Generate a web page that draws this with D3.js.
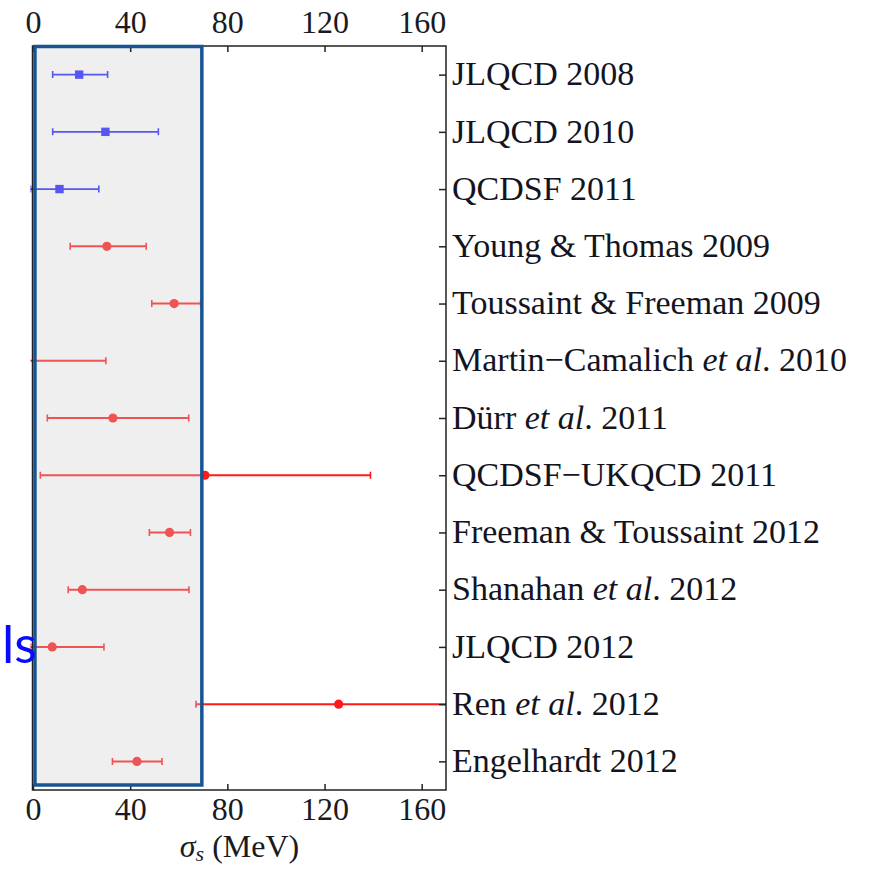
<!DOCTYPE html>
<html><head><meta charset="utf-8">
<script src="https://cdn.jsdelivr.net/npm/d3@7"></script>
<style>
html,body{margin:0;padding:0;background:#fff;}
svg{display:block;}
</style></head>
<body>
<svg id="chart" width="877" height="870"></svg>
<script>
// ---- data ----
const studies = [
  "JLQCD 2008", "JLQCD 2010", "QCDSF 2011", "Young & Thomas 2009",
  "Toussaint & Freeman 2009", "Martin\u2212Camalich et al. 2010", "Dürr et al. 2011",
  "QCDSF\u2212UKQCD 2011", "Freeman & Toussaint 2012", "Shanahan et al. 2012",
  "JLQCD 2012", "Ren et al. 2012", "Engelhardt 2012"
];
const centers = [19, 29.8, 10.9, 30.4, 58.1, -4, 32.9, 70.8, 56.2, 20.3, 7.9, 125.8, 42.8];
const lows    = [8.1, 8.1, -1, 15.3, 48.9, -35, 5.9, 3, 47.9, 14.5, -1, 67.1, 32.7];
const highs   = [30.7, 51.6, 27.1, 46.6, 69, 30, 64.1, 138.9, 64.8, 64.2, 29.2, 185, 53.1];
const groups  = ["Nf2", "Nf2", "Nf2", "Nf3", "Nf3", "Nf3", "Nf3", "Nf3", "Nf3", "Nf3", "Nf3", "Nf3", "Nf3"];
const xTicks = [0, 40, 80, 120, 160];
const xDomain = [0, 170];
const shadeRange = [0.8, 69.5];
const xTitle = ["\u03C3", "s", " (MeV)"];
const sideNote = "ls";

// ---- layout ----
const L = 33, R = 446, T = 46, B = 790;
const svg = d3.select("#chart");
const x = d3.scaleLinear().domain(xDomain).range([L, R]);
const y = d3.scalePoint().domain(studies).range([T, B]).padding(0.5);
const color = d3.scaleOrdinal().domain(["Nf2", "Nf3"]).range(["#2020ff", "#ff1a1a"]);
const serif = "'Liberation Serif','Times New Roman',serif";

const rows = studies.map((s, i) => ({name: s, c: centers[i], lo: lows[i], hi: highs[i], g: groups[i]}));

svg.append("defs").append("clipPath").attr("id", "clip")
  .append("rect").attr("x", x(-1)).attr("y", T - 5).attr("width", R - x(-1)).attr("height", B - T + 10);

// data layer
const gData = svg.append("g").attr("clip-path", "url(#clip)");
const row = gData.selectAll("g.row").data(rows).join("g").attr("class", "row")
  .attr("transform", d => `translate(0,${y(d.name)})`);
row.append("line")
  .attr("x1", d => x(d.lo)).attr("x2", d => x(d.hi))
  .attr("stroke", d => color(d.g)).attr("stroke-width", d => d.g === "Nf2" ? 1.8 : 2);
row.selectAll("line.cap").data(d => [d.lo, d.hi].map(v => ({v, g: d.g}))).join("line").attr("class", "cap")
  .attr("x1", d => x(d.v)).attr("x2", d => x(d.v)).attr("y1", -3.5).attr("y2", 3.5)
  .attr("stroke", d => color(d.g)).attr("stroke-width", 1.6);
row.filter(d => d.g === "Nf3").append("circle")
  .attr("cx", d => x(d.c)).attr("cy", 0).attr("r", 4.6).attr("fill", d => color(d.g));
row.filter(d => d.g === "Nf2").append("rect")
  .attr("x", d => x(d.c) - 4.2).attr("y", -4.2).attr("width", 8.4).attr("height", 8.4)
  .attr("fill", d => color(d.g));

// shaded overlay
svg.append("rect")
  .attr("x", x(shadeRange[0])).attr("y", T + 0.5)
  .attr("width", x(shadeRange[1]) - x(shadeRange[0])).attr("height", 738.5)
  .attr("fill", "rgb(205,205,205)").attr("fill-opacity", 0.32);

// frame
svg.append("rect").attr("x", L - 0.5).attr("y", T).attr("width", R - L + 0.5).attr("height", B - T)
  .attr("fill", "none").attr("stroke", "#222").attr("stroke-width", 1.5);

// top axis
const gTop = svg.append("g").attr("transform", `translate(0,${T})`)
  .call(d3.axisTop(x).tickValues(xTicks).tickSize(-6).tickSizeOuter(0).tickPadding(13));
// bottom axis
const gBot = svg.append("g").attr("transform", `translate(0,${B})`)
  .call(d3.axisBottom(x).tickValues(xTicks).tickSize(-6).tickSizeOuter(0).tickPadding(8));
[gTop, gBot].forEach(g => {
  g.select(".domain").remove();
  g.selectAll(".tick line").attr("stroke", "#222").attr("stroke-width", 1.5);
  g.selectAll(".tick text").attr("font-family", serif).attr("font-size", 32).attr("fill", "#1a1a22");
});
gBot.selectAll(".tick text").attr("dy", null).attr("y", 30);
gTop.selectAll(".tick text").attr("y", -13);

// right axis with study labels
const gRight = svg.append("g").attr("transform", `translate(${R},0)`)
  .call(d3.axisRight(y).tickSize(-7).tickSizeOuter(0).tickPadding(6));
gRight.select(".domain").remove();
gRight.selectAll(".tick line").attr("stroke", "#222").attr("stroke-width", 1.5);
gRight.selectAll(".tick text").each(function(d) {
  const t = d3.select(this).text(null)
    .attr("font-family", serif).attr("font-size", 34).attr("fill", "#14141e")
    .attr("dy", "0.3em");
  const parts = d.split("et al");
  if (parts.length === 1) { t.append("tspan").text(d); }
  else {
    t.append("tspan").text(parts[0]);
    t.append("tspan").attr("font-style", "italic").text("et al");
    t.append("tspan").text(parts[1]);
  }
});

// x-axis title
const title = svg.append("text").attr("x", (L + R) / 2).attr("y", 857).attr("text-anchor", "middle")
  .attr("font-family", serif).attr("font-size", 32).attr("fill", "#1a1a22");
title.append("tspan").attr("font-style", "italic").text(xTitle[0]);
title.append("tspan").attr("font-style", "italic").attr("font-size", 22).attr("dy", 4).text(xTitle[1]);
title.append("tspan").attr("dy", -4).text(xTitle[2]);

// blue shaded-region border (drawn on top)
svg.append("rect")
  .attr("x", x(shadeRange[0])).attr("y", T + 0.5)
  .attr("width", x(shadeRange[1]) - x(shadeRange[0])).attr("height", 738.5)
  .attr("fill", "none").attr("stroke", "#175494").attr("stroke-width", 3.5);

// side note
svg.append("text").attr("x", 2).attr("y", 663).attr("text-anchor", "start")
  .attr("font-family", "Lato, 'Open Sans', sans-serif").attr("font-size", 52).attr("fill", "#0a0aff")
  .text(sideNote);
</script>
</body></html>
